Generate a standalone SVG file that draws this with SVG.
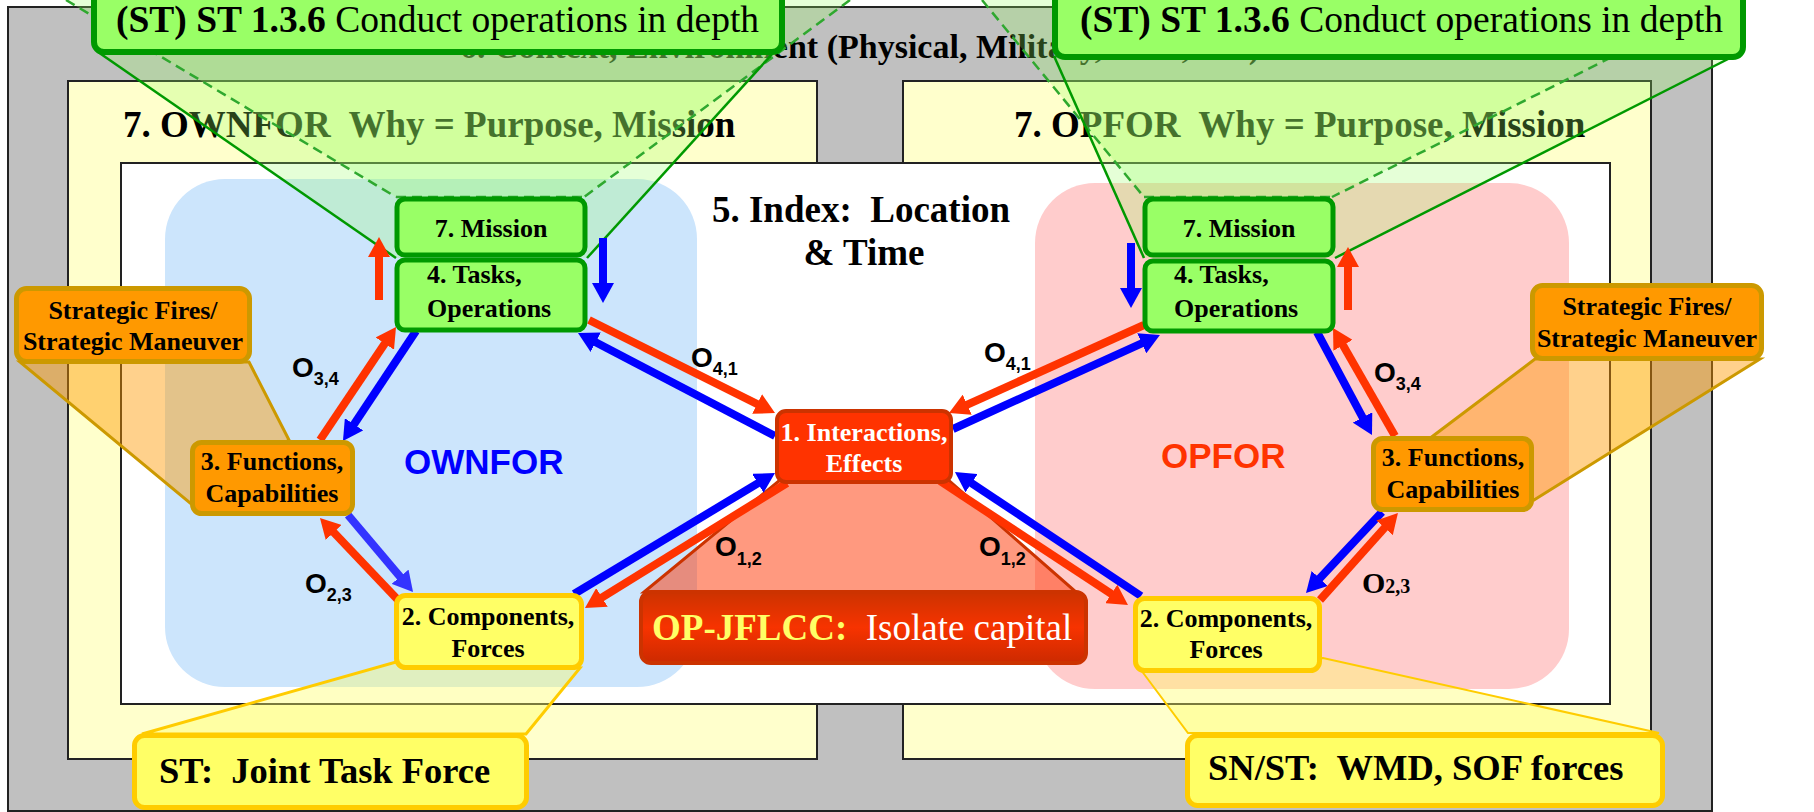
<svg xmlns="http://www.w3.org/2000/svg" width="1814" height="812" viewBox="0 0 1814 812">
<defs>
<style>
text { font-family: "Liberation Serif", "Times New Roman", serif; white-space: pre; fill: #000; }
.nt { font-size: 26px; font-weight: bold; }
.big { font-size: 37px; }
.b { font-weight: bold; }
.lbl { font-family: "Liberation Sans", Arial, sans-serif; font-weight: bold; font-size: 28px; }
.green { fill: #99ff66; stroke: #009900; stroke-width: 5; }
.orange { fill: #ff9900; stroke: #cc9900; stroke-width: 5; }
.yel { fill: #ffff66; stroke: #ffcc00; stroke-width: 5; }
.frame { stroke: #222; stroke-width: 2; }
.cone { fill: #99ff66; fill-opacity: 0.26; stroke: none; }
.csolid { stroke: #009900; stroke-width: 2.5; fill: none; }
.cdash { stroke: #2fa82f; stroke-width: 2.5; fill: none; stroke-dasharray: 10 6; }
.r { stroke: #ff3300; stroke-width: 8; fill: none; }
.bl { stroke: #0000ff; stroke-width: 8; fill: none; }
.lb { stroke: #3333ff; stroke-width: 8; fill: none; }
</style>
<marker id="ahR" viewBox="0 -11 20 22" markerWidth="20" markerHeight="22" refX="6" refY="0" orient="auto" markerUnits="userSpaceOnUse"><path d="M0,-11 L20,0 L0,11 z" fill="#ff3300"/></marker>
<marker id="ahB" viewBox="0 -11 20 22" markerWidth="20" markerHeight="22" refX="6" refY="0" orient="auto" markerUnits="userSpaceOnUse"><path d="M0,-11 L20,0 L0,11 z" fill="#0000ff"/></marker>
<marker id="ahL" viewBox="0 -11 20 22" markerWidth="20" markerHeight="22" refX="6" refY="0" orient="auto" markerUnits="userSpaceOnUse"><path d="M0,-11 L20,0 L0,11 z" fill="#3333ff"/></marker>
<linearGradient id="opg" x1="0" y1="0" x2="0" y2="1"><stop offset="0" stop-color="#cc3300"/><stop offset="0.5" stop-color="#f73300"/><stop offset="1" stop-color="#cc2a00"/></linearGradient>
</defs>

<g id="background">
<rect x="8" y="7" width="1704" height="804" fill="#c0c0c0" class="frame"/>
<rect x="68" y="81" width="749" height="678" fill="#ffffcc" class="frame"/>
<rect x="903" y="81" width="748" height="678" fill="#ffffcc" class="frame"/>
<rect x="121" y="163" width="1489" height="541" fill="#ffffff" class="frame"/>
<rect x="165" y="179" width="532" height="508" rx="60" fill="#cce5fc"/>
<rect x="1035" y="183" width="534" height="506" rx="60" fill="#ffcccc"/>
<text x="860" y="58" text-anchor="middle" class="b" style="font-size:34px">6. Context, Environment (Physical, Military, Civil, etc.)</text>
<text x="123" y="137" class="b big">7. OWNFOR  Why = Purpose, Mission</text>
<text x="1014" y="137" class="b big">7. OPFOR  Why = Purpose, Mission</text>
<text x="861" y="222" text-anchor="middle" class="b big">5. Index:  Location</text>
<text x="864" y="265" text-anchor="middle" class="b big">&amp; Time</text>
<text x="404" y="474" style="font-family:'Liberation Sans',Arial,sans-serif;font-weight:bold;font-size:35px;fill:#0000ff">OWNFOR</text>
<text x="1161" y="468" style="font-family:'Liberation Sans',Arial,sans-serif;font-weight:bold;font-size:35px;fill:#ff3300">OPFOR</text>
</g>

<g id="cone-left">
<polygon class="cone" points="66,0 850,0 584,197 396,197"/>
<polygon class="cone" points="98,52 774,52 587,258 396,258"/>
<line class="cdash" x1="66" y1="0" x2="396" y2="197"/>
<line class="cdash" x1="850" y1="0" x2="584" y2="197"/>
<line class="cdash" x1="396" y1="197" x2="584" y2="197"/>
<line class="csolid" x1="98" y1="52" x2="396" y2="258"/>
<line class="csolid" x1="774" y1="52" x2="587" y2="258"/>
</g>
<g id="cone-right">
<polygon class="cone" points="982,0 1726,0 1332,197 1144,197"/>
<polygon class="cone" points="1054,56 1734,56 1335,258 1144,258"/>
<line class="cdash" x1="982" y1="0" x2="1144" y2="197"/>
<line class="cdash" x1="1726" y1="0" x2="1332" y2="197"/>
<line class="cdash" x1="1144" y1="197" x2="1332" y2="197"/>
<line class="csolid" x1="1054" y1="56" x2="1144" y2="258"/>
<line class="csolid" x1="1734" y1="56" x2="1335" y2="258"/>
</g>

<g id="callout-links">
<polygon points="20,362 249,362 289,440 190,503" fill="#ff9900" fill-opacity="0.45" stroke="#cc9900" stroke-width="3"/>
<polygon points="1535,359 1760,359 1534,500 1433,436" fill="#ff9900" fill-opacity="0.45" stroke="#cc9900" stroke-width="3"/>
<polygon points="396,662 580,668 526,734 142,734" fill="#ffff66" fill-opacity="0.4" stroke="#ffcc00" stroke-width="3"/>
<polygon points="1141,670 1323,658 1659,733 1188,733" fill="#ffff66" fill-opacity="0.4" stroke="#ffcc00" stroke-width="2"/>
<polygon points="780,480 946,478 1076,592 644,592" fill="#ff3300" fill-opacity="0.5" stroke="#cc3300" stroke-width="3"/>
</g>

<g id="connectors">
<line class="r" x1="379" y1="300" x2="379" y2="251" marker-end="url(#ahR)"/>
<line class="bl" x1="603" y1="238" x2="603" y2="289" marker-end="url(#ahB)"/>
<line class="r" x1="320" y1="440" x2="388.2" y2="338.6" marker-end="url(#ahR)"/>
<line class="bl" x1="416" y1="331" x2="350.7" y2="429.3" marker-end="url(#ahB)"/>
<line class="r" x1="589" y1="320" x2="762.5" y2="406.7" marker-end="url(#ahR)"/>
<line class="bl" x1="775" y1="436" x2="590.4" y2="339.5" marker-end="url(#ahB)"/>
<line class="bl" x1="574" y1="594" x2="763" y2="480.2" marker-end="url(#ahB)"/>
<line class="r" x1="787" y1="483" x2="596.9" y2="600.6" marker-end="url(#ahR)"/>
<line class="r" x1="398" y1="600" x2="329.6" y2="528.1" marker-end="url(#ahR)"/>
<line class="lb" x1="348" y1="515" x2="404" y2="581.3" marker-end="url(#ahL)"/>
<line class="bl" x1="1131" y1="243" x2="1131" y2="294" marker-end="url(#ahB)"/>
<line class="r" x1="1348" y1="310" x2="1348" y2="261" marker-end="url(#ahR)"/>
<line class="r" x1="1144" y1="325" x2="961.8" y2="407.2" marker-end="url(#ahR)"/>
<line class="bl" x1="953" y1="429" x2="1147.2" y2="340.8" marker-end="url(#ahB)"/>
<line class="bl" x1="1317" y1="332" x2="1365.4" y2="422.7" marker-end="url(#ahB)"/>
<line class="r" x1="1395" y1="436" x2="1340" y2="340.1" marker-end="url(#ahR)"/>
<line class="bl" x1="1382" y1="512" x2="1315.6" y2="582.8" marker-end="url(#ahB)"/>
<line class="r" x1="1320" y1="600" x2="1388.6" y2="523.4" marker-end="url(#ahR)"/>
<line class="r" x1="940" y1="481" x2="1116.3" y2="597.2" marker-end="url(#ahR)"/>
<line class="bl" x1="1141" y1="596" x2="966.6" y2="479.8" marker-end="url(#ahB)"/>
</g>

<g id="connector-labels">
<text class="lbl" x="292" y="377">O<tspan dy="8" style="font-size:18px">3,4</tspan></text>
<text class="lbl" x="691" y="367">O<tspan dy="8" style="font-size:18px">4,1</tspan></text>
<text class="lbl" x="715" y="556">O<tspan dy="9" style="font-size:18px">1,2</tspan></text>
<text class="lbl" x="305" y="593">O<tspan dy="8" style="font-size:18px">2,3</tspan></text>
<text class="lbl" x="984" y="362">O<tspan dy="8" style="font-size:18px">4,1</tspan></text>
<text class="lbl" x="979" y="556">O<tspan dy="9" style="font-size:18px">1,2</tspan></text>
<text class="lbl" x="1374" y="382">O<tspan dy="8" style="font-size:18px">3,4</tspan></text>
<text class="b" x="1362" y="593" style="font-size:30px">O<tspan dy="0" style="font-size:20px">2,3</tspan></text>
</g>

<g id="node-mission-left">
<rect class="green" x="397" y="199" width="188" height="56" rx="8"/>
<text class="nt" x="491" y="237" text-anchor="middle">7. Mission</text>
</g>
<g id="node-tasks-left">
<rect class="green" x="397" y="260" width="188" height="70" rx="8"/>
<text class="nt" x="427" y="283">4. Tasks,</text>
<text class="nt" x="427" y="317">Operations</text>
</g>
<g id="node-functions-left">
<rect class="orange" x="192.5" y="442.5" width="160" height="71" rx="9"/>
<text class="nt" x="272" y="470" text-anchor="middle">3. Functions,</text>
<text class="nt" x="272" y="502" text-anchor="middle">Capabilities</text>
</g>
<g id="node-components-left">
<rect class="yel" x="396.5" y="595.5" width="185" height="72" rx="9"/>
<text class="nt" x="488" y="625" text-anchor="middle">2. Components,</text>
<text class="nt" x="488" y="657" text-anchor="middle">Forces</text>
</g>
<g id="node-interactions">
<rect x="777" y="411" width="174" height="71" rx="9" fill="#ff3300" stroke="#cc3300" stroke-width="4"/>
<text class="nt" x="864" y="441" text-anchor="middle" style="fill:#fff">1. Interactions,</text>
<text class="nt" x="864" y="472" text-anchor="middle" style="fill:#fff">Effects</text>
</g>
<g id="node-mission-right">
<rect class="green" x="1145" y="199" width="188" height="56" rx="8"/>
<text class="nt" x="1239" y="237" text-anchor="middle">7. Mission</text>
</g>
<g id="node-tasks-right">
<rect class="green" x="1145" y="261" width="188" height="70" rx="8"/>
<text class="nt" x="1174" y="283">4. Tasks,</text>
<text class="nt" x="1174" y="317">Operations</text>
</g>
<g id="node-functions-right">
<rect class="orange" x="1373.5" y="438.5" width="158" height="71" rx="9"/>
<text class="nt" x="1453" y="466" text-anchor="middle">3. Functions,</text>
<text class="nt" x="1453" y="498" text-anchor="middle">Capabilities</text>
</g>
<g id="node-components-right">
<rect class="yel" x="1135.5" y="598.5" width="184" height="72" rx="9"/>
<text class="nt" x="1226" y="627" text-anchor="middle">2. Components,</text>
<text class="nt" x="1226" y="658" text-anchor="middle">Forces</text>
</g>

<g id="callout-strategic-left">
<rect class="orange" x="16.5" y="288.5" width="233" height="73" rx="10"/>
<text class="nt" x="133" y="319" text-anchor="middle">Strategic Fires/</text>
<text class="nt" x="133" y="350" text-anchor="middle">Strategic Maneuver</text>
</g>
<g id="callout-strategic-right">
<rect class="orange" x="1532.5" y="285.5" width="229" height="73" rx="10"/>
<text class="nt" x="1647" y="315" text-anchor="middle">Strategic Fires/</text>
<text class="nt" x="1647" y="347" text-anchor="middle">Strategic Maneuver</text>
</g>
<g id="callout-st-left">
<rect class="yel" x="134.5" y="735.5" width="392" height="72" rx="10"/>
<text class="b" x="159" y="783" style="font-size:36.5px">ST:  Joint Task Force</text>
</g>
<g id="callout-snst-right">
<rect class="yel" x="1187.5" y="735.5" width="475" height="70" rx="10"/>
<text class="b" x="1208" y="780" style="font-size:36.5px">SN/ST:  WMD, SOF forces</text>
</g>
<g id="callout-opjflcc">
<rect x="641" y="592" width="445" height="71" rx="10" fill="url(#opg)" stroke="#cc3300" stroke-width="4"/>
<text x="652" y="640" style="font-size:37px"><tspan style="font-weight:bold;fill:#ffff66">OP-JFLCC:</tspan><tspan style="fill:#ffffff">  Isolate capital</tspan></text>
</g>
<g id="callout-st136-left">
<rect x="94" y="-20" width="688" height="72" rx="10" fill="#99ff66" stroke="#009900" stroke-width="6"/>
<text x="116" y="32" style="font-size:37.5px"><tspan class="b">(ST) ST 1.3.6</tspan> Conduct operations in depth</text>
</g>
<g id="callout-st136-right">
<rect x="1055" y="-20" width="688" height="77" rx="10" fill="#99ff66" stroke="#009900" stroke-width="6"/>
<text x="1080" y="32" style="font-size:37.5px"><tspan class="b">(ST) ST 1.3.6</tspan> Conduct operations in depth</text>
</g>
</svg>
